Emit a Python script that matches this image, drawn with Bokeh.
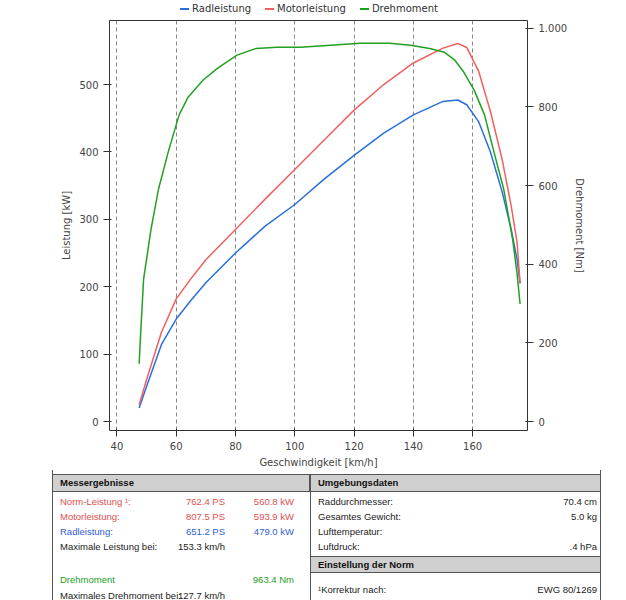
from bokeh.plotting import figure
from bokeh.layouts import column
from bokeh.models import Range1d, LinearAxis, CustomJSTickFormatter, Div
from bokeh.embed import file_html
from bokeh.resources import INLINE

speed_t = [47.5, 48, 49, 51.5, 54, 57.5, 61, 64, 69, 74, 80.5, 87, 94, 102, 112, 122, 132, 139, 145.5, 150.5, 154, 157, 160.5, 164, 167, 170.5, 173.5, 175, 176]
torque = [147, 223, 362, 489, 590, 691, 780, 825, 868, 899, 932, 949, 952, 952, 957, 962, 962, 957, 949, 939, 919, 889, 843, 780, 691, 590, 463, 375, 299]
speed_p = [47.5, 50, 55, 60, 65, 70, 80, 90, 100, 110, 120, 130, 140, 150, 155, 158, 162, 166, 170, 173, 175, 176]
motor = [25, 62, 132, 182, 212, 240, 285, 330, 374, 418, 462, 500, 532, 554, 561, 555, 520, 460, 388, 320, 265, 205]
rad = [20, 52, 114, 152, 180, 206, 250, 290, 322, 360, 395, 428, 455, 475, 477, 470, 445, 400, 340, 285, 240, 205]
series_names = ["Radleistung", "Motorleistung", "Drehmoment"]
series_colors = ["#2a6fdb", "#f06060", "#22a022"]

FONT = "DejaVu Sans"
TF = "'Liberation Sans', Arial, sans-serif"
p = figure(width=618, height=452, output_backend="svg", toolbar_location=None,
           x_range=Range1d(37.5, 178.5), y_range=Range1d(-13.3, 595),
           min_border_left=109, min_border_right=91, min_border_top=2, min_border_bottom=38)
p.extra_y_ranges = {"t": Range1d(-22.8, 1020)}
p.outline_line_color = "#333333"
p.ygrid.visible = False
p.xgrid.grid_line_dash = "4 3"
p.xgrid.grid_line_color = "#888888"
p.xaxis.ticker = [40, 60, 80, 100, 120, 140, 160, 180]
p.yaxis.ticker = [0, 100, 200, 300, 400, 500]
p.xaxis.axis_label = "Geschwindigkeit [km/h]"
p.yaxis.axis_label = "Leistung [kW]"
ax2 = LinearAxis(y_range_name="t", axis_label="Drehmoment [Nm]", ticker=[0, 200, 400, 600, 800, 1000])
ax2.formatter = CustomJSTickFormatter(code="return tick >= 1000 ? (tick/1000).toFixed(0)+'.'+String(tick%1000).padStart(3,'0') : String(tick);")
p.add_layout(ax2, "right")
for ax in [p.xaxis[0], p.yaxis[0], ax2]:
    ax.axis_label_text_font = FONT
    ax.axis_label_text_font_style = "normal"
    ax.axis_label_text_font_size = "10px"
    ax.major_label_text_font = FONT
    ax.major_label_text_font_size = "10px"
    ax.axis_line_color = None
    ax.major_tick_line_color = "#333333"
    ax.minor_tick_line_color = "#333333"
    ax.axis_label_standoff = 4

p.line(speed_p, rad, line_color=series_colors[0], line_width=1.5)
p.line(speed_p, motor, line_color=series_colors[1], line_width=1.5)
p.line(speed_t, torque, line_color=series_colors[2], line_width=1.5, y_range_name="t")

# legend row
items = "".join(
    f'<span style="margin:0 7px;white-space:nowrap"><span style="display:inline-block;width:9px;height:2px;'
    f'background:{c};vertical-align:middle;margin-right:3px"></span>{n}</span>'
    for n, c in zip(series_names, series_colors))
legend = Div(text=f'<div style="width:618px;text-align:center;padding-left:0px;font-family:DejaVu Sans;'
                  f'font-size:10px;color:#333;line-height:18px">{items}</div>',
             width=618, height=18, margin=0)

# table (HTML text)
headers = ["Messergebnisse", "Umgebungsdaten", "Einstellung der Norm"]
left_labels = ["Norm-Leistung ¹:", "Motorleistung:", "Radleistung:", "Maximale Leistung bei:", "Drehmoment", "Maximales Drehmoment bei:"]
left_ps = ["762.4 PS", "807.5 PS", "651.2 PS", "153.3 km/h", "", "127.7 km/h"]
left_kw = ["560.8 kW", "593.9 kW", "479.0 kW", "", "963.4 Nm", ""]
left_colors = ["#e05050", "#e05050", "#3060d0", "#222222", "#22a022", "#222222"]
right_labels = ["Raddurchmesser:", "Gesamtes Gewicht:", "Lufttemperatur:", "Luftdruck:", "¹Korrektur nach:"]
right_values = ["70.4 cm", "5.0 kg", "", ".4 hPa", "EWG 80/1269"]

Y0 = 470
def txt(x, y, s, color="#222", align="left", bold=False):
    w = 200
    left = x if align == "left" else x - w
    return (f'<div style="position:absolute;left:{left}px;top:{y - Y0 - 6}px;width:{w}px;'
            f'text-align:{align};color:{color};font-size:9.5px;line-height:12px;white-space:nowrap;'
            f'font-weight:{"bold" if bold else "normal"}">{s}</div>')

parts = []
def box(l, t, r, b, fill="none", bw="1px"):
    parts.append(f'<div style="position:absolute;left:{l}px;top:{t - Y0}px;width:{r - l}px;height:{b - t}px;'
                 f'background:{fill};border:{bw} solid #555;box-sizing:border-box"></div>')
box(52, 460, 601, 640, bw="1.5px")
box(52, 474, 310, 492, "#d0d0d0")
box(310, 474, 601, 492, "#d0d0d0")
box(310, 474, 601, 640)
box(310, 556, 601, 573, "#d0d0d0")
parts.append(txt(60, 483, headers[0], "#111", bold=True))
parts.append(txt(318, 483, headers[1], "#111", bold=True))
parts.append(txt(318, 565, headers[2], "#111", bold=True))
ly = [502, 517, 532, 547, 580, 596]
ry = [502, 517, 532, 547, 590]
for y, a, b, c, col in zip(ly, left_labels, left_ps, left_kw, left_colors):
    parts.append(txt(60, y, a, col))
    parts.append(txt(225, y, b, col, "right"))
    parts.append(txt(294, y, c, col, "right"))
for y, a, b in zip(ry, right_labels, right_values):
    parts.append(txt(318, y, a))
    parts.append(txt(597, y, b, align="right"))

html = (f'<div style="position:relative;width:618px;height:130px;overflow:hidden;font-family:{TF}">'
        + "".join(parts) + "</div>")
d = Div(text=html, width=618, height=130, margin=0)

lay = column(legend, p, d, spacing=0)
open("out.html", "w").write(file_html(lay, INLINE))
